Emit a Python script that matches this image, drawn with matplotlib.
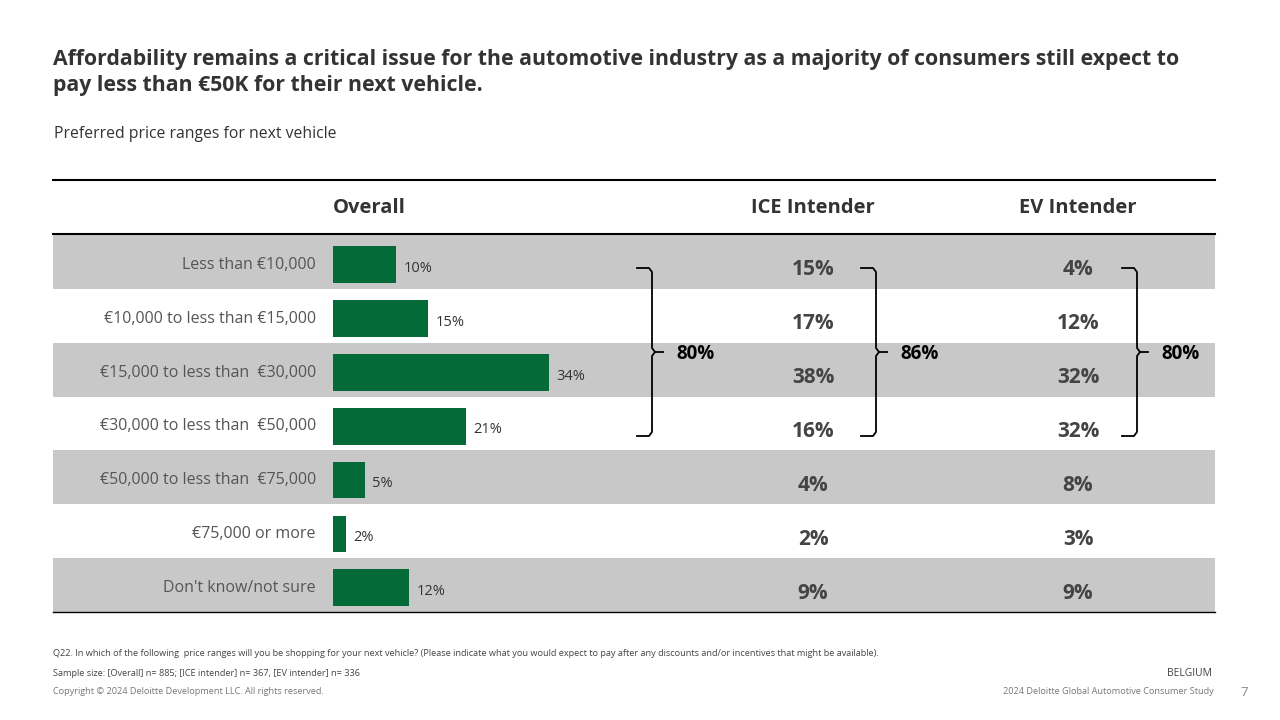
import matplotlib.pyplot as plt
from matplotlib.lines import Line2D

categories = ["Less than €10,000", "€10,000 to less than €15,000", "€15,000 to less than  €30,000",
              "€30,000 to less than  €50,000", "€50,000 to less than  €75,000", "€75,000 or more",
              "Don't know/not sure"]
overall = [10, 15, 34, 21, 5, 2, 12]
ice = [15, 17, 38, 16, 4, 2, 9]
ev = [4, 12, 32, 32, 8, 3, 9]
bracket_labels = ["80%", "86%", "80%"]

W, H = 1280, 720
GREEN = "#046A38"
GRAY = "#C8C8C8"
plt.rcParams["font.family"] = ["Open Sans", "DejaVu Sans"]

fig = plt.figure(figsize=(12.8, 7.2), dpi=100)


def fx(x):
    return x / W


def fy(y):
    return 1 - y / H


def txt(x, y, s, **kw):
    fig.text(fx(x), fy(y), s, **kw)


top, bottom = 235, 612
n = len(categories)
# background row bands
bg = fig.add_axes([fx(53), fy(bottom), fx(1215 - 53), (bottom - top) / H])
bg.set_xlim(0, 1)
bg.set_ylim(n, 0)
for i in range(n):
    if i % 2 == 0:
        bg.axhspan(i, i + 1, color=GRAY, lw=0)
bg.axis("off")

# bars
ax = fig.add_axes([fx(333), fy(bottom), fx(650 - 333), (bottom - top) / H])
ax.set_xlim(0, 50)
ax.set_ylim(n - 0.5, -0.5)
ax.barh([i + 0.05 for i in range(n)], overall, height=0.68, color=GREEN)
for i, v in enumerate(overall):
    ax.text(v + 1.2, i + 0.12, f"{v}%", va="center", fontsize=10.5, color="#333333")
ax.axis("off")

row_h = (bottom - top) / n
for i, c in enumerate(categories):
    y = top + row_h * (i + 0.5)
    txt(316, y + 3, c, ha="right", va="center", fontsize=11.5, color="#555555")
    txt(813, y + 8, f"{ice[i]}%", ha="center", va="center", fontsize=15, fontweight="bold", color="#444444")
    txt(1078, y + 8, f"{ev[i]}%", ha="center", va="center", fontsize=15, fontweight="bold", color="#444444")

# rules
for y, lw in [(180, 1.5), (234, 1.5), (612, 1.0)]:
    fig.add_artist(Line2D([fx(53), fx(1215)], [fy(y), fy(y)], color="black", lw=lw))

txt(333, 208, "Overall", va="center", fontsize=14.5, fontweight="bold", color="#333333")
txt(813, 208, "ICE Intender", ha="center", va="center", fontsize=14.5, fontweight="bold", color="#333333")
txt(1078, 208, "EV Intender", ha="center", va="center", fontsize=14.5, fontweight="bold", color="#333333")

# brackets
for bx, lab in zip([637, 861, 1122], bracket_labels):
    xs = [bx, bx + 12, bx + 15, bx + 15, bx + 18, bx + 15, bx + 15, bx + 12, bx]
    ys = [268, 268, 272, 348, 352, 356, 432, 436, 436]
    fig.add_artist(Line2D([fx(x) for x in xs], [fy(y) for y in ys], color="black", lw=1.3))
    fig.add_artist(Line2D([fx(bx + 18), fx(bx + 26)], [fy(352), fy(352)], color="black", lw=1.3))
    txt(bx + 39, 354, lab, va="center", fontsize=13.5, fontweight="bold", color="black")

txt(53, 59, "Affordability remains a critical issue for the automotive industry as a majority of consumers still expect to",
    va="center", fontsize=15.3, fontweight="bold", color="#333333")
txt(53, 85, "pay less than €50K for their next vehicle.", va="center", fontsize=15.3, fontweight="bold", color="#333333")
txt(54, 134, "Preferred price ranges for next vehicle", va="center", fontsize=11.3, color="#333333")

txt(53, 654, "Q22. In which of the following  price ranges will you be shopping for your next vehicle? (Please indicate what you would expect to pay after any discounts and/or incentives that might be available).",
    va="center", fontsize=6.6, color="#444444")
txt(53, 674, "Sample size: [Overall] n= 885; [ICE intender] n= 367, [EV intender] n= 336", va="center", fontsize=6.6, color="#444444")
txt(53, 692, "Copyright © 2024 Deloitte Development LLC. All rights reserved.", va="center", fontsize=6.6, color="#777777")
txt(1212, 674, "BELGIUM", ha="right", va="center", fontsize=7.5, color="#444444")
txt(1214, 692, "2024 Deloitte Global Automotive Consumer Study", ha="right", va="center", fontsize=6.6, color="#777777")
txt(1248, 692, "7", ha="right", va="center", fontsize=9.5, color="#888888")

fig.savefig("out.png", dpi=100)
